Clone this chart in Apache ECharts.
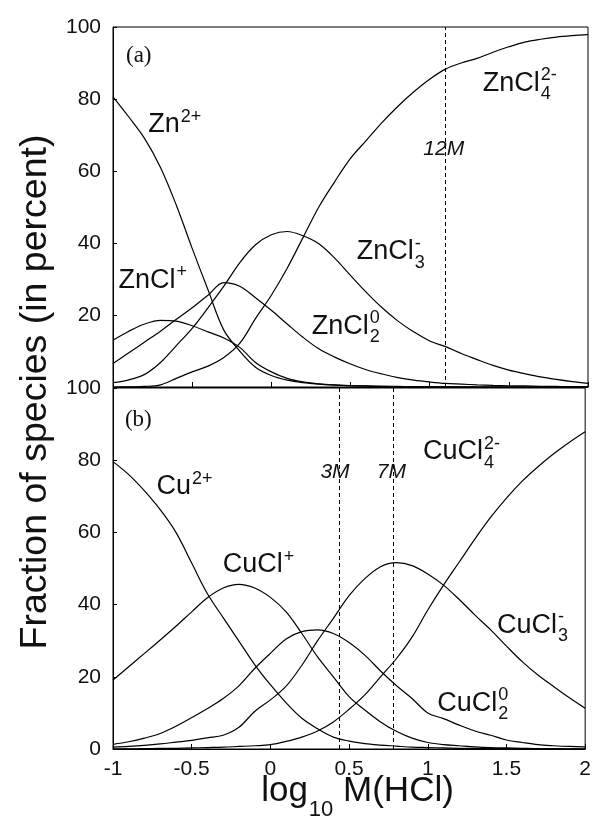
<!DOCTYPE html>
<html>
<head>
<meta charset="utf-8">
<title>Zn / Cu chloride speciation</title>
<script src="https://cdn.jsdelivr.net/npm/echarts@6/dist/echarts.min.js"></script>
<style>
  html, body { margin: 0; padding: 0; background: #fff; }
  #main { width: 594px; height: 821px; }
</style>
</head>
<body>
<div id="main"></div>
<script>
// log10 M(HCl) sample points
var logM = [-1, -0.9, -0.8, -0.7, -0.6, -0.5, -0.4, -0.3, -0.2, -0.1, 0, 0.1, 0.2, 0.3, 0.4, 0.5,
            0.6, 0.7, 0.8, 0.9, 1.0, 1.1, 1.2, 1.3, 1.4, 1.5, 1.6, 1.7, 1.8, 1.9, 2.0];

// (a) zinc species, percent
var zn2    = [80.6, 75, 69, 61, 50.5, 38.5, 27, 15.8, 10, 5.5, 3.2, 1.9, 1.2, 0.8, 0.5, 0.35,
              0.25, 0.15, 0.1, 0.1, 0.05, 0, 0, 0, 0, 0, 0, 0, 0, 0, 0];
var zncl1  = [13, 15.5, 17.5, 18.5, 18.3, 17, 15.3, 13.6, 11, 6.8, 4.2, 2.4, 1.4, 0.9, 0.6, 0.4,
              0.3, 0.2, 0.15, 0.1, 0.1, 0.05, 0.05, 0, 0, 0, 0, 0, 0, 0, 0];
var zncl2  = [6.5, 9.5, 12.5, 15.5, 18.8, 22, 25.5, 29, 28, 24.8, 21.3, 17.5, 13.8, 10.6, 8.3, 6.4,
              4.8, 3.6, 2.6, 1.9, 1.4, 1.0, 0.8, 0.6, 0.45, 0.35, 0.3, 0.2, 0.15, 0.1, 0.1];
var zncl3  = [1.2, 2, 3.5, 6.8, 11.5, 16.3, 22, 28, 34.5, 39.5, 42.3, 43.2, 42, 39.8, 35.8, 31,
              26.3, 22, 18.3, 15.3, 12.8, 11.2, 9.3, 7.6, 6, 4.7, 3.7, 2.8, 2.1, 1.5, 1.0];
var zncl4  = [0, 0.05, 0.15, 0.6, 2.4, 4.2, 5.8, 8.2, 12.1, 19, 25.5, 33, 41.5, 50, 57, 63.5,
              68.5, 73.5, 78, 82, 85.5, 88.3, 90, 91.3, 93, 94.5, 95.8, 96.6, 97.2, 97.6, 97.9];

// (b) copper species, percent
var cu2    = [79.6, 76, 71.5, 66.3, 60, 51.5, 43, 36.4, 29.9, 23.4, 17.8, 12.8, 8.5, 5.6, 3.3, 2.2,
              1.5, 1.1, 0.8, 0.5, 0.4, 0.3, 0.2, 0.15, 0.1, 0.1, 0.05, 0, 0, 0, 0];
var cucl1  = [19.1, 22.8, 26.5, 30.2, 34, 38, 41.9, 44.6, 45.6, 44.6, 42, 38, 32, 25.5, 20, 14.5,
              10.8, 7.5, 4.9, 3, 1.8, 1.2, 0.9, 0.6, 0.4, 0.3, 0.2, 0.1, 0.1, 0.05, 0];
var cucl2  = [1.3, 2, 3, 4.3, 6.3, 8.7, 11.2, 14, 17.5, 22.3, 26.5, 30.5, 32.5, 33, 32, 29.5,
              26, 21.6, 17.6, 14, 10, 8.4, 6.6, 5.0, 3.8, 2.5, 1.8, 1.2, 0.9, 0.7, 0.6];
var cucl3  = [0.5, 0.7, 1, 1.4, 1.9, 2.4, 3.1, 3.8, 6, 10.4, 13.6, 17.4, 23.2, 30, 36.2, 42.5,
              47.2, 50.5, 51.6, 50.8, 48.5, 45.4, 41.4, 37.1, 33, 28.5, 24.2, 20.5, 17.3, 14.2, 11.3];
var cucl4  = [0, 0.05, 0.1, 0.15, 0.2, 0.3, 0.4, 0.5, 0.7, 0.9, 1.2, 2.1, 3.3, 5, 7.5, 11,
              15, 20, 25, 31, 38.5, 45.4, 51.8, 58.2, 64.2, 69.5, 74.2, 78.2, 81.8, 85, 87.9];

// concentration markers (log10 M)
var znMarkers = [1.1];
var cuMarkers = [0.44, 0.78];
var xTicks = [-1, -0.5, 0, 0.5, 1, 1.5, 2];

// species labels, anchored in data coordinates
var znLabels = [
    {at: [-0.777, 72.8], base: 'Zn', sup: '2+'},
    {at: [-0.966, 29.7], base: 'ZnCl', sup: '+'},
    {at: [0.539, 37.6], base: 'ZnCl', sub: '3', sup: '-'},
    {at: [0.255, 16.8], base: 'ZnCl', sub: '2', sup: '0'},
    {at: [1.335, 84.4], base: 'ZnCl', sub: '4', sup: '2-'}
];
var cuLabels = [
    {at: [-0.724, 72.7], base: 'Cu', sup: '2+'},
    {at: [-0.303, 51], base: 'CuCl', sup: '+'},
    {at: [0.97, 82.4], base: 'CuCl', sub: '4', sup: '2-'},
    {at: [1.44, 34.3], base: 'CuCl', sub: '3', sup: '-'},
    {at: [1.06, 12.7], base: 'CuCl', sub: '2', sup: '0'}
];
var znMolar = [{at: [0.96, 66], text: '12M'}];
var cuMolar = [{at: [0.318, 76.6], text: '3M'}, {at: [0.676, 76.6], text: '7M'}];

var SANS = '"Liberation Sans", Arial, Helvetica, sans-serif';
var SERIF = '"Liberation Serif", "Times New Roman", serif';

var myChart = echarts.init(document.getElementById('main'), null, {renderer: 'canvas'});

function pairs(ys) {
    return logM.map(function (x, i) { return [x, ys[i]]; });
}

function curve(name, ys, idx, markers) {
    var s = {
        name: name,
        type: 'line',
        xAxisIndex: idx,
        yAxisIndex: idx,
        data: pairs(ys),
        smooth: 0.35,
        showSymbol: false,
        lineStyle: {color: '#000', width: 1.2},
        silent: true
    };
    if (markers) {
        s.markLine = {
            silent: true,
            symbol: ['none', 'none'],
            label: {show: false},
            lineStyle: {color: '#000', width: 1, type: [4, 3]},
            data: markers.map(function (m) { return {xAxis: m}; })
        };
    }
    return s;
}

function xAxisOf(idx, showLabels) {
    return {
        type: 'value', gridIndex: idx, min: -1, max: 2, interval: 0.5,
        axisLine: {show: true, onZero: false, lineStyle: {color: '#000', width: 1}},
        axisTick: {show: true, inside: true, length: 5, lineStyle: {color: '#000'}},
        splitLine: {show: false},
        axisLabel: {
            show: showLabels, fontSize: 21, fontFamily: SANS, color: '#111', margin: 10,
            formatter: function (v) { return xTicks.indexOf(v) >= 0 ? String(v) : ''; }
        }
    };
}

function yAxisOf(idx, hideZero) {
    return {
        type: 'value', gridIndex: idx, min: 0, max: 100, interval: 20,
        axisLine: {show: true, onZero: false, lineStyle: {color: '#000', width: 1}},
        axisTick: {show: true, inside: true, length: 4, lineStyle: {color: '#000'}},
        splitLine: {show: false},
        axisLabel: {
            fontSize: 21, fontFamily: SANS, color: '#111', margin: 12,
            formatter: function (v) { return (hideZero && v === 0) ? '' : String(v); }
        }
    };
}

var option = {
    animation: false,
    backgroundColor: '#fff',
    grid: [
        {left: 113, top: 27, width: 475, height: 360, show: true, borderColor: '#000', borderWidth: 1},
        {left: 113, top: 388, width: 475, height: 361, show: true, borderColor: '#000', borderWidth: 1}
    ],
    xAxis: [xAxisOf(0, false), xAxisOf(1, true)],
    yAxis: [yAxisOf(0, true), yAxisOf(1, false)],
    series: [
        curve('Zn2+', zn2, 0, znMarkers),
        curve('ZnCl+', zncl1, 0),
        curve('ZnCl2', zncl2, 0),
        curve('ZnCl3-', zncl3, 0),
        curve('ZnCl4 2-', zncl4, 0),
        curve('Cu2+', cu2, 1, cuMarkers),
        curve('CuCl+', cucl1, 1),
        curve('CuCl2', cucl2, 1),
        curve('CuCl3-', cucl3, 1),
        curve('CuCl4 2-', cucl4, 1)
    ]
};
myChart.setOption(option);

// ---- text annotations (sub/superscripts) ----
var measureCtx = document.createElement('canvas').getContext('2d');
function textWidth(str, size, family, style) {
    measureCtx.font = (style ? style + ' ' : '') + size + 'px ' + family;
    return measureCtx.measureText(str).width;
}
function txt(x, y, str, size, opts) {
    opts = opts || {};
    return {
        type: 'text', x: x, y: y, rotation: opts.rotation || 0, silent: true,
        style: {
            text: str, fill: '#111', fontSize: size,
            fontFamily: opts.family || SANS, fontStyle: opts.style || 'normal',
            align: opts.align || 'left', verticalAlign: 'middle'
        }
    };
}

var BASE = 27, SMALL = 18;
var graphics = [];

function speciesLabels(list, gridIndex) {
    list.forEach(function (l) {
        var p = myChart.convertToPixel({gridIndex: gridIndex}, l.at);
        graphics.push(txt(p[0], p[1], l.base, BASE));
        var w = textWidth(l.base, BASE, SANS);
        if (l.sub) graphics.push(txt(p[0] + w + 1, p[1] + 11, l.sub, SMALL));
        if (l.sup) graphics.push(txt(p[0] + w + 1, p[1] - 8, l.sup, SMALL));
    });
}
function plainLabels(list, gridIndex, size, opts) {
    list.forEach(function (l) {
        var p = myChart.convertToPixel({gridIndex: gridIndex}, l.at);
        graphics.push(txt(p[0], p[1], l.text, size, opts));
    });
}

speciesLabels(znLabels, 0);
speciesLabels(cuLabels, 1);
plainLabels(znMolar, 0, 21, {style: 'italic'});
plainLabels(cuMolar, 1, 21, {style: 'italic'});
plainLabels([{at: [-0.918, 91.9], text: '(a)'}], 0, 23, {family: SERIF});
plainLabels([{at: [-0.924, 91.1], text: '(b)'}], 1, 23, {family: SERIF});

// y axis title, spanning both panels
graphics.push(txt(36, 392, 'Fraction of species (in percent)', 37.5,
    {align: 'center', rotation: Math.PI / 2}));

// x axis title: log10 M(HCl)
(function () {
    var big = 35, sub = 22;
    var w1 = textWidth('log', big, SANS), w2 = textWidth('10', sub, SANS), w3 = textWidth(' M(HCl)', big, SANS);
    var x0 = 357 - (w1 + w2 + w3) / 2, y0 = 791;
    graphics.push(txt(x0, y0, 'log', big));
    graphics.push(txt(x0 + w1 + 1, y0 + 19, '10', sub));
    graphics.push(txt(x0 + w1 + w2 + 1, y0, ' M(HCl)', big));
})();

myChart.setOption({graphic: graphics});
</script>
</body>
</html>
